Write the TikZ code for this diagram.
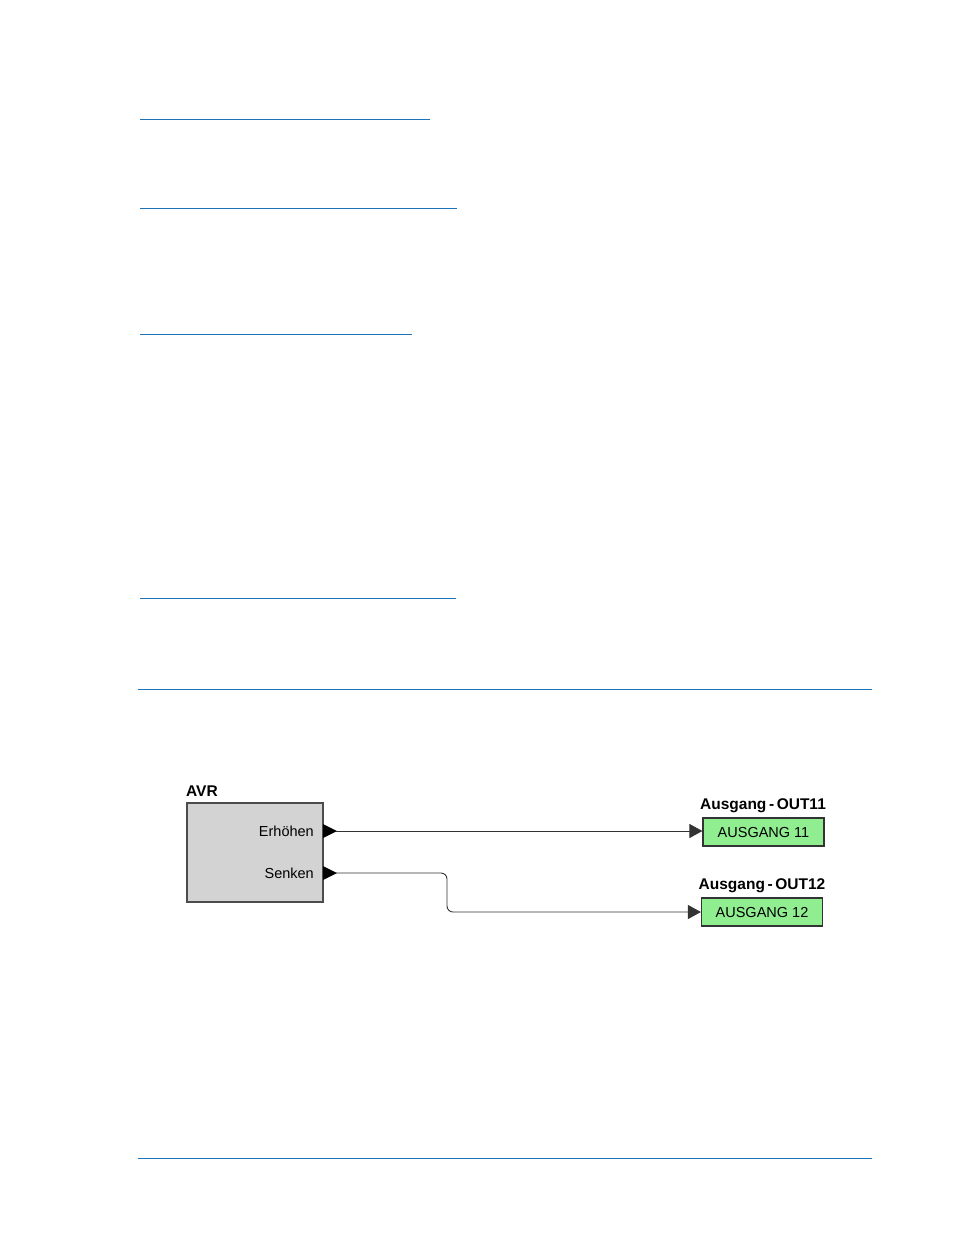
\documentclass[tikz,border=0pt]{standalone}
\usepackage{fontspec}
\setmainfont{Liberation Sans}
\usetikzlibrary{arrows.meta}
\definecolor{rule}{HTML}{1B73BA}
\definecolor{boxgray}{HTML}{D3D3D3}
\definecolor{outgreen}{HTML}{90EE90}
\begin{document}
\begin{tikzpicture}[x=1pt,y=-1pt,
  hrule/.style={draw=rule,line width=1pt},
  block/.style={draw=black!70,fill=boxgray,line width=1.2pt,minimum width=136pt,minimum height=99pt,inner sep=0pt},
  outbox/.style={draw=black!80,fill=outgreen,line width=1.2pt,minimum width=121pt,minimum height=28pt,inner sep=0pt,font=\fontsize{14.5}{16}\selectfont},
  port/.style={font=\fontsize{14.5}{16}\selectfont,anchor=east,inner sep=0pt},
  title/.style={font=\bfseries\fontsize{15.5}{17}\selectfont,inner sep=0pt},
  wire/.style={draw=black!80,line width=0.9pt},
  tip/.style={-{Triangle[length=13pt,width=14pt]}},
  porttri/.style={fill=black}
]
\useasboundingbox (0,0) rectangle (954,1235);
% page rules
\draw[hrule] (140,119) -- (430,119);
\draw[hrule] (140,208) -- (457,208);
\draw[hrule] (140,334) -- (412,334);
\draw[hrule] (140,598) -- (456,598);
\draw[hrule] (138,689) -- (872,689);
\draw[hrule] (138,1158) -- (872,1158);
% AVR block
\node[block] (avr) at (255,852.5) {};
\node[title,anchor=south west] (avrt) at (186,797) {AVR};
\node[port] (erh) at (314,831) {Erhöhen};
\node[port] (sen) at (314,873) {Senken};
\coordinate (p1) at (336,831);
\coordinate (p2) at (336,873);
\fill[porttri] (323,824) -- (337,831) -- (323,838) -- cycle;
\fill[porttri] (323,866) -- (337,873) -- (323,880) -- cycle;
% outputs
\node[outbox] (o11) at (763.5,832) {AUSGANG 11};
\node[outbox] (o12) at (762,912) {AUSGANG 12};
\node[title,anchor=south] (o11t) at (763,812.5) {Ausgang\,-\,OUT11};
\node[title,anchor=south] (o12t) at (762,892.5) {Ausgang\,-\,OUT12};
% wires
\draw[wire,tip] (p1) -- (o11.west |- p1);
\draw[wire,tip,rounded corners=6pt] (p2) -- (447,873) -- (447,912) -- (o12.west);
\end{tikzpicture}
\end{document}
